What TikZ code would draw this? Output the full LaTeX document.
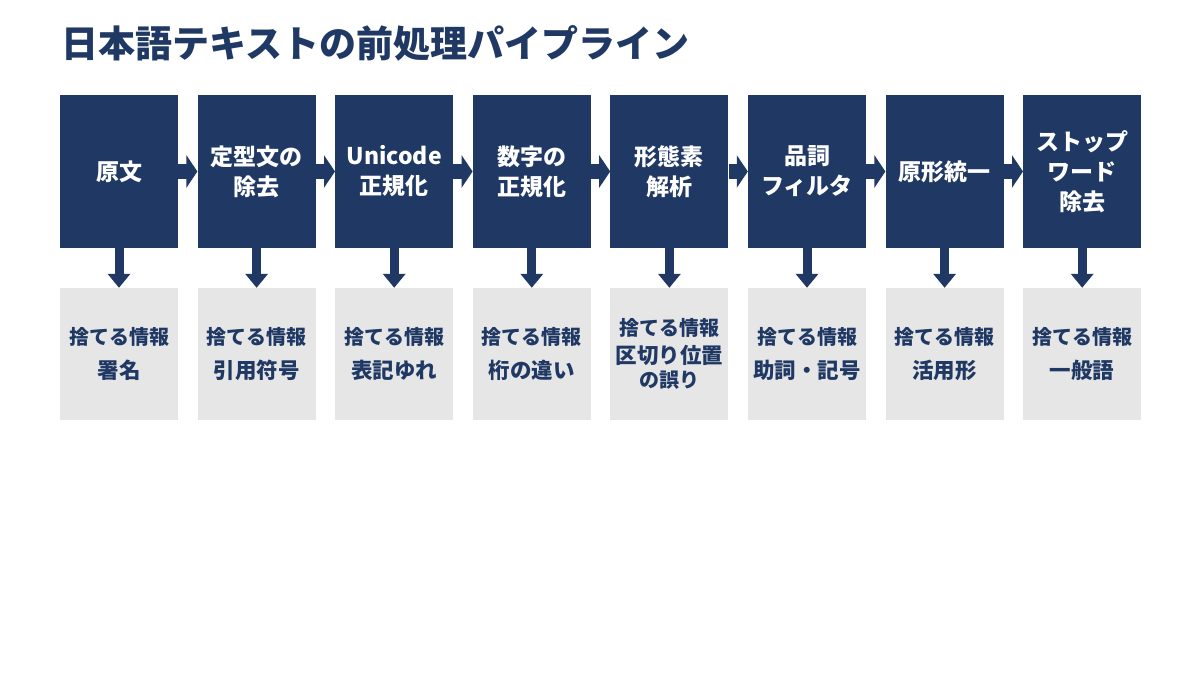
\documentclass[tikz,border=0pt]{standalone}
\usepackage{fontspec}
\setmainfont{Noto Sans CJK JP}
\usetikzlibrary{arrows.meta}
\definecolor{navy}{HTML}{1F3864}
\definecolor{lgray}{HTML}{E6E6E6}
\tikzset{
  stage/.style={fill=navy, text=white, minimum width=118pt, minimum height=153pt, inner sep=0pt, align=center, font=\bfseries\fontsize{23}{30}\selectfont},
  lost/.style={fill=lgray, text=navy, minimum width=118pt, minimum height=132pt, inner sep=0pt, align=center, font=\bfseries\fontsize{20}{27}\selectfont},
  flow/.style={navy, line width=15pt, -{Triangle[length=11pt,width=32pt]}},
  drop/.style={navy, line width=9pt, -{Triangle[length=14pt,width=22pt]}},
}
\newcommand{\lhead}{\fontsize{20}{27}\selectfont 捨てる情報}
\newcommand{\lbody}{\fontsize{21.5}{27}\selectfont}
\begin{document}
\begin{tikzpicture}[x=1pt,y=1pt]
\useasboundingbox (0,0) rectangle (1200,675);
\fill[white] (0,0) rectangle (1200,675);
\node[anchor=west, text=navy, font=\bfseries\fontsize{37}{40}\selectfont, inner sep=0pt] (title) at (61,632) {日本語テキストの前処理パイプライン};
% stages
\node[stage] (t1) at (119.0,503.5) {原文};
\node[stage] (t2) at (256.6,503.5) {定型文の\\除去};
\node[stage] (t3) at (394.2,503.5) {Unicode\\正規化};
\node[stage] (t4) at (531.8,503.5) {数字の\\正規化};
\node[stage] (t5) at (669.4,503.5) {形態素\\解析};
\node[stage] (t6) at (807.0,503.5) {品詞\\フィルタ};
\node[stage] (t7) at (944.6,503.5) {原形統一};
\node[stage] (t8) at (1082.2,503.5) {ストップ\\ワード\\除去};
% lost info
\node[lost] (b1) at (119.0,321) {\lhead\\[7pt]\lbody 署名};
\node[lost] (b2) at (256.6,321) {\lhead\\[7pt]\lbody 引用符号};
\node[lost] (b3) at (394.2,321) {\lhead\\[7pt]\lbody 表記ゆれ};
\node[lost] (b4) at (531.8,321) {\lhead\\[7pt]\lbody 桁の違い};
\node[lost] (b5) at (669.4,321) {\lhead\\[1pt]\lbody 区切り位置\\[-3pt]の誤り};
\node[lost] (b6) at (807.0,321) {\lhead\\[7pt]\lbody 助詞・記号};
\node[lost] (b7) at (944.6,321) {\lhead\\[7pt]\lbody 活用形};
\node[lost] (b8) at (1082.2,321) {\lhead\\[7pt]\lbody 一般語};
% flow arrows
\foreach \a/\b in {t1/t2,t2/t3,t3/t4,t4/t5,t5/t6,t6/t7,t7/t8}
  \draw[flow] (\a.east) -- (\b.west);
\foreach \i in {1,...,8}
  \draw[drop] (t\i.south) -- (b\i.north);
\end{tikzpicture}
\end{document}
